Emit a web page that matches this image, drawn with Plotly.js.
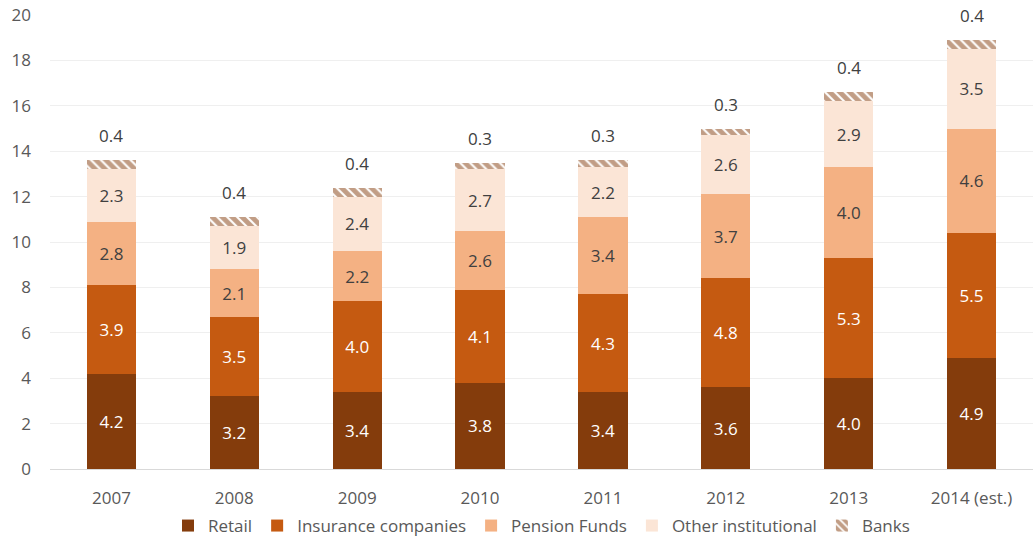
<!DOCTYPE html>
<html>
<head>
<meta charset="utf-8">
<script src="https://cdn.plot.ly/plotly-3.0.1.min.js"></script>
<style>html,body{margin:0;padding:0;background:#fff;}#chart{width:1033px;height:544px;}</style>
</head>
<body>
<div id="chart"></div>
<script>
const years = ["2007","2008","2009","2010","2011","2012","2013","2014 (est.)"];
const retail = [4.2,3.2,3.4,3.8,3.4,3.6,4.0,4.9];
const insurance = [3.9,3.5,4.0,4.1,4.3,4.8,5.3,5.5];
const pension = [2.8,2.1,2.2,2.6,3.4,3.7,4.0,4.6];
const otherInst = [2.3,1.9,2.4,2.7,2.2,2.6,2.9,3.5];
const banks = [0.4,0.4,0.4,0.3,0.3,0.3,0.4,0.4];

const FONT = "Open Sans, Noto Sans, sans-serif";
const fmt = v => v.map(x => x.toFixed(1));

function tr(name, y, color, textColor, extra) {
  return Object.assign({
    type: "bar", name: name, x: years, y: y,
    marker: {color: color, line: {width: 0}},
    text: fmt(y), texttemplate: "%{text}", textposition: "inside", insidetextanchor: "middle",
    textfont: {family: FONT, size: 17, color: textColor},
    hoverinfo: "none"
  }, extra || {});
}

const data = [
  tr("Retail", retail, "#843C0C", "#ffffff"),
  tr("Insurance companies", insurance, "#C55A11", "#ffffff"),
  tr("Pension Funds", pension, "#F4B183", "#404040"),
  tr("Other institutional", otherInst, "#FBE5D6", "#404040"),
  tr("Banks", banks, "#ffffff", "#404040", {
    marker: {color: "#ffffff", line: {width: 0},
      pattern: {shape: "\\", fgcolor: "#843C0C", bgcolor: "#ffffff", size: 7, solidity: 0.7, fillmode: "overlay"}},
    textposition: "none"
  })
];

// Banks labels sit above each full stack (x given as category index)
const totals = years.map((_, i) => retail[i] + insurance[i] + pension[i] + otherInst[i] + banks[i]);
const annotations = years.map((yr, i) => ({
  x: i, y: totals[i], xref: "x", yref: "y", text: banks[i].toFixed(1),
  showarrow: false, yanchor: "bottom", yshift: 11,
  font: {family: FONT, size: 17, color: "#404040"}
}));

const layout = {
  width: 1033, height: 544,
  margin: {l: 50, r: 0, t: 15, b: 75},
  barmode: "stack", bargap: 0.6,
  paper_bgcolor: "#ffffff", plot_bgcolor: "#ffffff",
  font: {family: FONT, color: "#595959", size: 16},
  xaxis: {
    type: "category", automargin: false,
    showgrid: false, showline: true, linecolor: "#d9d9d9", linewidth: 1,
    ticks: "", ticklabelstandoff: 14, tickfont: {family: FONT, size: 17, color: "#595959"}
  },
  yaxis: {
    range: [0, 20], dtick: 2, showgrid: true, gridcolor: "#efefef", gridwidth: 1,
    zeroline: false, showline: false, ticks: "", ticklabelstandoff: 18, automargin: false,
    tickfont: {family: FONT, size: 17, color: "#595959"}
  },
  annotations: annotations,
  showlegend: true,
  legend: {orientation: "h", x: 0.5, xanchor: "center", yref: "container", y: -0.008, yanchor: "bottom",
    font: {family: FONT, size: 17, color: "#595959"}, itemwidth: 30, traceorder: "normal"},
  uniformtext: {mode: false}
};

Plotly.newPlot("chart", data, layout, {displayModeBar: false, staticPlot: true});
</script>
</body>
</html>
